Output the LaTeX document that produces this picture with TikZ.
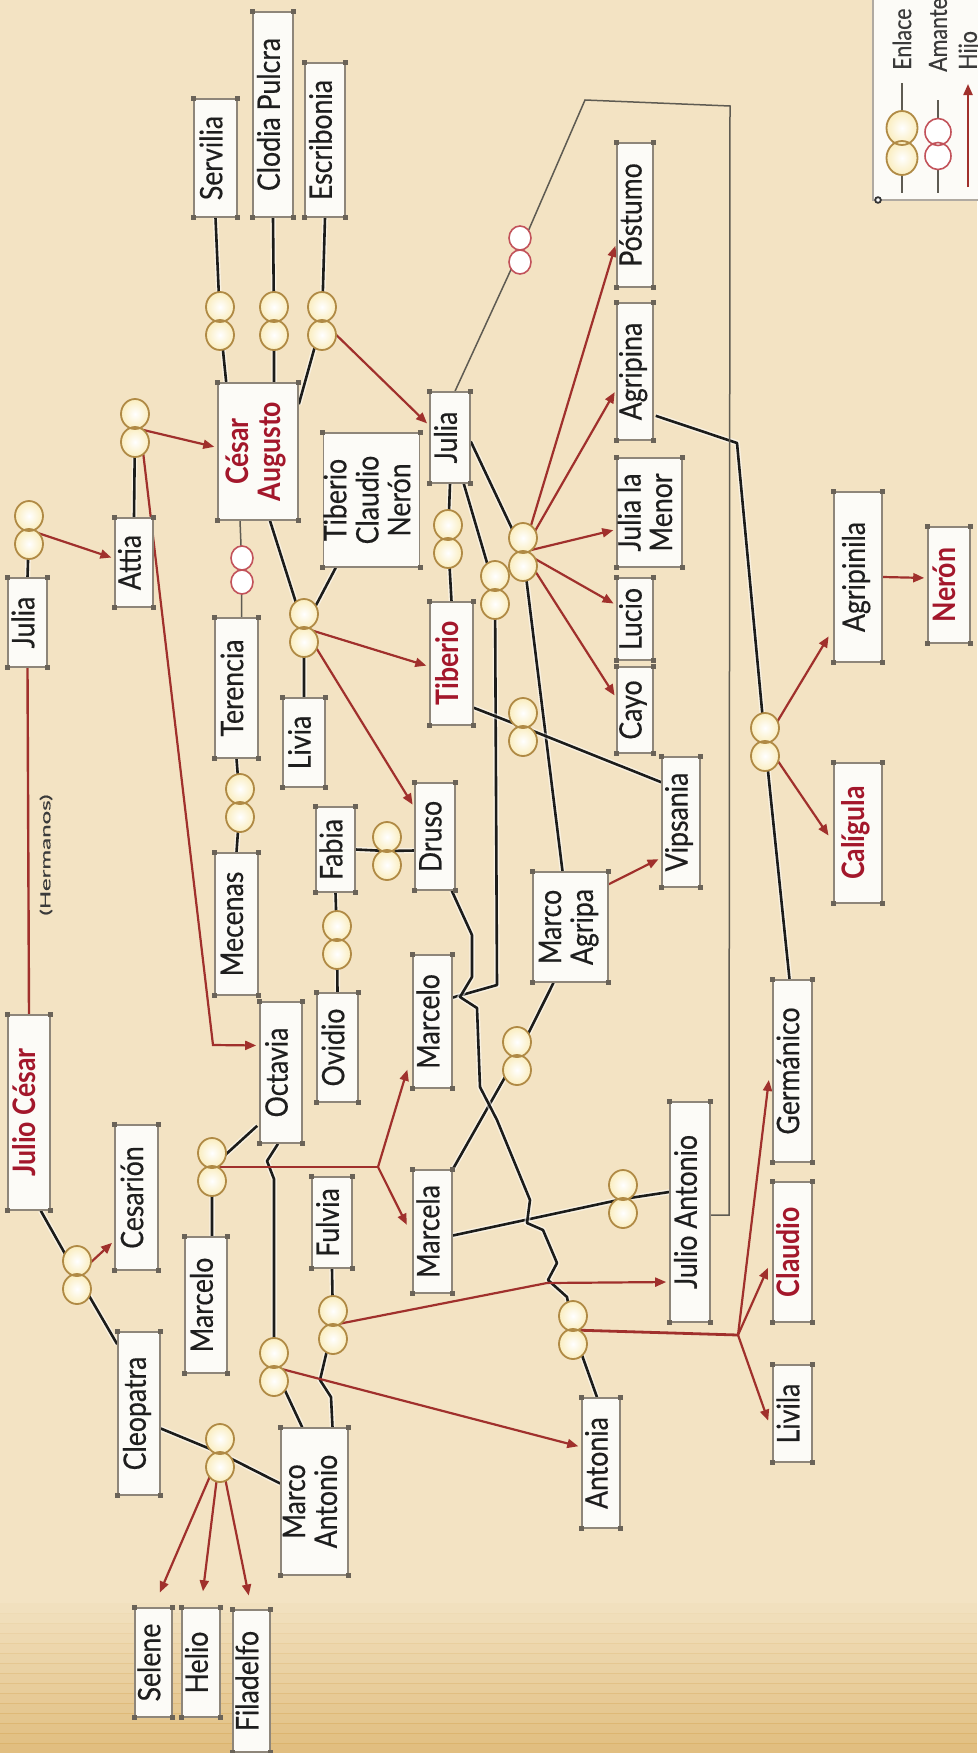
\documentclass[tikz,border=0pt]{standalone}
\usepackage{fontspec}
\setmainfont{Lato}[FakeStretch=0.86, UprightFeatures={FakeBold=0.4}]
\usepackage{graphicx}
\usetikzlibrary{arrows.meta,calc}
\definecolor{bgc}{HTML}{F3E3C3}
\definecolor{bgdark}{HTML}{D9AE62}
\definecolor{boxgray}{HTML}{8E867A}
\definecolor{cornergray}{HTML}{6A6358}
\definecolor{boxfill}{HTML}{FCFBF7}
\definecolor{txtred}{HTML}{A3172B}
\definecolor{arrred}{HTML}{A0302C}
\definecolor{ringbrown}{HTML}{B08A45}
\definecolor{ringyel}{HTML}{FAEDBE}
\definecolor{amred}{HTML}{C2525A}
\definecolor{lnblack}{HTML}{1C1C1A}
\definecolor{amgray}{HTML}{5E5B52}
\definecolor{legtext}{HTML}{3A3A3A}
\definecolor{txtblack}{HTML}{1E1E1E}
\pgfdeclarelayer{bgl}\pgfdeclarelayer{edges}\pgfsetlayers{bgl,edges,main}
\newcommand\lblfont{\fontsize{31}{31}\selectfont}
\newcommand\legfont{\fontsize{25}{25}\selectfont}
\tikzset{
  pbox/.style={draw=boxgray, fill=boxfill, line width=1.6pt, inner sep=0pt, font=\lblfont, text=txtblack},
  enl/.style={draw=lnblack, line width=2.6pt, line join=round, preaction={draw=white, line width=5.5pt, opacity=0.55}},
  aml/.style={draw=amgray, line width=1.5pt},
  hijo/.style={draw=arrred, line width=2.2pt, -{Triangle[length=11pt,width=9pt]}, shorten >=3pt},
  hijoline/.style={draw=arrred, line width=2.8pt},
  hline/.style={draw=arrred, line width=2.4pt},
  ringEfill/.style={shade, inner color=white, outer color=ringyel},
  ringEline/.style={draw=ringbrown, line width=1.8pt},
  ringAfill/.style={fill=white},
  ringAline/.style={draw=amred, line width=1.6pt},
}
% name, x, y, rx, ry, offset, style prefix
\newcommand\ringgen[7]{%
  \node[inner sep=0pt, minimum width={2*#4}, minimum height={2*#6+2*#5}] (#1) at (#2,#3) {};
  \path[#7fill] ([yshift=#6pt]#1.center) ellipse [x radius=#4pt, y radius=#5pt];
  \path[#7fill] ([yshift=-#6pt]#1.center) ellipse [x radius=#4pt, y radius=#5pt];
  \draw[#7line] ([yshift=#6pt]#1.center) ellipse [x radius=#4pt, y radius=#5pt]
                ([yshift=-#6pt]#1.center) ellipse [x radius=#4pt, y radius=#5pt];}
\newcommand\ringE[3]{\ringgen{#1}{#2}{#3}{14}{15}{14}{ringE}}
\newcommand\ringA[3]{\ringgen{#1}{#2}{#3}{11}{12}{12}{ringA}}
% [style] name x y w h text
\newcommand\pn[7][]{\node[pbox,minimum width=#5,minimum height=#6] (#2) at (#3,#4)
  {\rotatebox{90}{#1\begin{tabular}{@{}c@{}}#7\end{tabular}}};}
\newcommand\rd{\color{txtred}\bfseries}

\begin{document}
\begin{tikzpicture}[x=1pt,y=-1pt]
\useasboundingbox (0,0) rectangle (977,1753);
\begin{pgfonlayer}{bgl}
  \fill[bgc] (0,0) rectangle (977,1753);
  \foreach \i in {0,...,15} {\fill[bgdark, opacity=\i/22] (0,1593+\i*10) rectangle (977,1604+\i*10);}
\end{pgfonlayer}

% ---------- boxes ----------
\pn{servilia}{215.5}{158}{43}{118}{Servilia}
\pn{clodia}{273}{114.5}{40}{205}{Clodia Pulcra}
\pn{escribonia}{325}{140}{40}{154}{Escribonia}
\pn[\rd]{augusto}{258}{451.5}{80}{137}{César\\Augusto}
\pn{julia1}{27.5}{622.5}{39}{89}{Julia}
\pn{attia}{134}{562.5}{38}{89}{Attia}
\pn{terencia}{236.5}{688}{43}{140}{Terencia}
\pn{mecenas}{236.5}{924}{43}{142}{Mecenas}
\pn{tcn}{371.5}{500}{93}{134}{Tiberio\\Claudio\\Nerón}
\pn{livia}{304}{742.5}{42}{89}{Livia}
\pn{julia2}{450}{437.5}{40}{91}{Julia}
\pn[\rd]{tiberio}{451.5}{663.5}{43}{123}{Tiberio}
\pn{druso}{435}{836.5}{40}{107}{Druso}
\pn{fabia}{335.5}{849.5}{39}{85}{Fabia}
\pn{ovidio}{337.5}{1047.5}{41}{109}{Ovidio}
\pn{octavia}{281}{1072.5}{42}{141}{Octavia}
\pn{marcelo2}{432.5}{1021.5}{39}{133}{Marcelo}
\pn{marcela}{432.5}{1231.5}{39}{123}{Marcela}
\pn{marcelo1}{206}{1305}{42}{136}{Marcelo}
\pn{fulvia}{332}{1222.5}{40}{91}{Fulvia}
\pn{mantonio}{314.5}{1501.5}{67}{147}{Marco\\Antonio}
\pn{cleopatra}{139}{1413.5}{42}{163}{Cleopatra}
\pn[\rd]{jcesar}{29}{1112.5}{42}{195}{Julio César}
\pn{cesarion}{136.5}{1197.5}{43}{145}{Cesarión}
\pn{selene}{153.5}{1662.5}{37}{109}{Selene}
\pn{helio}{201}{1662.5}{38}{109}{Helio}
\pn{filadelfo}{251.5}{1681}{37}{142}{Filadelfo}
\pn{antonia}{601}{1463}{38}{130}{Antonia}
\pn{julioantonio}{690}{1212}{40}{220}{Julio Antonio}
\pn{livila}{792.5}{1413.5}{39}{97}{Livila}
\pn[\rd]{claudio}{792.5}{1252}{39}{140}{Claudio}
\pn{germanico}{792.5}{1071}{39}{182}{Germánico}
\pn[\rd]{caligula}{858}{833}{48}{140}{Calígula}
\pn{agripinila}{858}{577}{48}{170}{Agripinila}
\pn[\rd]{neron}{949}{585}{42}{116}{Nerón}
\pn{postumo}{635}{215}{36}{144}{Póstumo}
\pn{agripina}{635}{371.5}{36}{137}{Agripina}
\pn{juliamenor}{649.5}{512.5}{65}{109}{Julia la\\Menor}
\pn{lucio}{635}{619}{36}{82}{Lucio}
\pn{cayo}{635}{710}{36}{86}{Cayo}
\pn{vipsania}{681}{822}{38}{130}{Vipsania}
\pn{magripa}{570.5}{927}{75}{110}{Marco\\Agripa}

\foreach \n in {servilia,clodia,escribonia,augusto,julia1,attia,terencia,mecenas,tcn,livia,julia2,tiberio,druso,fabia,ovidio,octavia,marcelo2,marcela,marcelo1,fulvia,mantonio,cleopatra,jcesar,cesarion,selene,helio,filadelfo,antonia,julioantonio,livila,claudio,germanico,caligula,agripinila,neron,postumo,agripina,juliamenor,lucio,cayo,vipsania,magripa}
  {\foreach \a in {north east,north west,south east,south west}
    {\fill[cornergray] ([shift={(-2.5,-2.5)}]\n.\a) rectangle ([shift={(2.5,2.5)}]\n.\a);}}

\node[inner sep=0pt, font=\fontsize{14}{14}\selectfont, text=legtext] (hermanos) at (46,855)
  {\rotatebox{90}{\scalebox{2}[1]{(Hermanos)}}};

% ---------- rings ----------
\ringE{rserv}{220}{321}
\ringE{rclod}{274}{321}
\ringE{rescr}{322}{321}
\ringE{rattia}{135}{428}
\ringE{rjulia}{29}{530}
\ringE{rmec}{240}{803}
\ringE{rlivia}{304}{628}
\ringE{rjt}{448}{539}
\ringE{rjm}{495}{590}
\ringE{rja}{523}{552}
\ringE{rtv}{523}{727}
\ringE{rfd}{387}{851}
\ringE{rov}{337}{940}
\ringE{roct}{212}{1167}
\ringE{rmo}{274}{1367}
\ringE{rfulv}{333}{1325}
\ringE{rcleo}{220}{1453}
\ringE{rjc}{77}{1275}
\ringE{rma}{517}{1056}
\ringE{rmja}{623}{1199}
\ringE{rant}{573}{1330}
\ringE{ragr}{765}{742}
\ringA{rter}{242}{570}
\ringA{rjul}{520}{250}

% ---------- helper coordinates ----------
\coordinate (cjm) at (497,985);
\coordinate (co1) at (267,1161);
\coordinate (co2) at (274,1179);
\coordinate (cf1) at (320,1380);
\coordinate (cf2) at (331,1397);
\coordinate (d1) at (472,935);
\coordinate (d2) at (472,977);
\coordinate (d3) at (460,997);
\coordinate (d4) at (477,1008);
\coordinate (d5) at (480,1087);
\coordinate (d6) at (497,1120);
\coordinate (d7) at (530,1200);
\coordinate (d8) at (527,1223);
\coordinate (d9) at (543,1230);
\coordinate (d10) at (557,1263);
\coordinate (d11) at (548,1280);
\coordinate (d12) at (567,1297);
\coordinate (cag) at (737,443);
\coordinate (cj1) at (585,100);
\coordinate (cj2) at (730,106);
\coordinate (cj3) at (729,1215);
\coordinate (coc) at (213,1045);
\coordinate (foct) at (378,1167);
\coordinate (cfu) at (547,1283);
\coordinate (fant) at (738,1335);

\begin{pgfonlayer}{edges}
% enlaces
\draw[enl] (servilia.south) -- (rserv.center) -- ([shift={(9,0)}]augusto.north west);
\draw[enl] (clodia.south) -- (rclod.center) -- ([shift={(16,0)}]augusto.north);
\draw[enl] (escribonia.south) -- (rescr.center) -- ([shift={(0,22)}]augusto.north east);
\draw[enl] (rattia.center) -- (attia.north);
\draw[enl] (rjulia.center) -- (julia1.north);
\draw[enl] (terencia.south) -- (rmec.center) -- (mecenas.north);
\draw[enl] ([shift={(12,0)}]augusto.south) -- (rlivia.center);
\draw[enl] ([shift={(13,0)}]tcn.south west) -- (rlivia.center) -- (livia.north);
\draw[enl] (julia2.south) -- (rjt.center) -- (tiberio.north);
\draw[enl] ([shift={(0,4)}]julia2.east) -- (rja.center) -- ([shift={(-8,0)}]magripa.north);
\draw[enl] ([shift={(-7,0)}]julia2.south east) -- (rjm.center) -- (cjm) -- ([shift={(0,-24)}]marcelo2.east);
\draw[enl] ([shift={(0,-18)}]tiberio.south east) -- (rtv.center) -- ([shift={(0,26)}]vipsania.north west);
\draw[enl] (fabia.east) -- (rfd.center) -- ([shift={(0,14)}]druso.west);
\draw[enl] (fabia.south) -- (rov.center) -- (ovidio.north);
\draw[enl] ([shift={(-2,-18)}]octavia.south west) -- (roct.center) -- ([shift={(6,0)}]marcelo1.north);
\draw[enl] ([shift={(-3,0)}]octavia.south) -- (co1) -- (co2) -- (rmo.center) -- ([shift={(22,0)}]mantonio.north west);
\draw[enl] (fulvia.south) -- (rfulv.center) -- (cf1) -- (cf2) -- ([shift={(18,0)}]mantonio.north);
\draw[enl] ([shift={(0,15)}]cleopatra.east) -- (rcleo.center) -- ([shift={(0,-18)}]mantonio.west);
\draw[enl] ([shift={(-10,0)}]jcesar.south east) -- (rjc.center) -- ([shift={(0,13)}]cleopatra.north west);
\draw[enl] ([shift={(-17,0)}]magripa.south) -- (rma.center) -- (marcela.north east);
\draw[enl] ([shift={(0,4)}]marcela.east) -- (rmja.center) -- ([shift={(0,-20)}]julioantonio.west);
\draw[enl] ([shift={(-4,0)}]druso.south east) -- (d1) -- (d2) -- (d3) -- (d4) -- (d5) -- (d6) -- (d7) -- (d8) -- (d9) -- (d10) -- (d11) -- (d12) -- (rant.center) -- ([shift={(-4,0)}]antonia.north);
\draw[enl] ([shift={(2,-25)}]agripina.south east) -- (cag) -- (ragr.center) -- ([shift={(-3,0)}]germanico.north);
% amantes
\draw[aml] ([shift={(-18,0)}]augusto.south) -- (rter.center) -- ([shift={(5,0)}]terencia.north);
\draw[aml] ([shift={(5,0)}]julia2.north) -- (rjul.center) -- (cj1) -- (cj2) -- (cj3) -- ([shift={(0,3)}]julioantonio.east);
% hermanos
\draw[hline] (julia1.south) -- (jcesar.north);
% hijos
\draw[hijo] (rjulia.center) -- ([shift={(0,-4)}]attia.west);
\draw[hijo] (rattia.center) -- ([shift={(0,-4)}]augusto.west);
\draw[hijo] ([shift={(-6,-4)}]rattia.south east) -- (coc) -- ([shift={(0,-27)}]octavia.west);
\draw[hijo] (rescr.center) -- ([shift={(0,-12)}]julia2.west);
\draw[hijo] (rlivia.center) -- ([shift={(0,3)}]tiberio.west);
\draw[hijo] (rlivia.center) -- ([shift={(0,25)}]druso.north west);
\draw[hijo] (rja.center) -- ([shift={(0,28)}]postumo.west);
\draw[hijo] (rja.center) -- ([shift={(0,18)}]agripina.west);
\draw[hijo] (rja.center) -- ([shift={(0,17)}]juliamenor.west);
\draw[hijo] (rja.center) -- ([shift={(0,-14)}]lucio.west);
\draw[hijo] (rja.center) -- ([shift={(0,-12)}]cayo.west);
\draw[hijo] ([shift={(0,13)}]magripa.north east) -- ([shift={(0,-30)}]vipsania.south west);
\draw[hijoline] (roct.center) -- (foct);
\draw[hijo] (foct) -- ([shift={(-4,-22)}]marcelo2.south west);
\draw[hijo] (foct) -- ([shift={(-4,-4)}]marcela.west);
\draw[hijo] (rjc.center) -- ([shift={(0,-30)}]cesarion.south west);
\draw[hijo, shorten >=16pt] (rcleo.center) -- (selene.north);
\draw[hijo, shorten >=16pt] (rcleo.center) -- (helio.north);
\draw[hijo, shorten >=14pt] (rcleo.center) -- (filadelfo.north);
\draw[hijo] (rfulv.center) -- (cfu) -- ([shift={(0,70)}]julioantonio.west);
\draw[hijo] (rmo.center) -- ([shift={(0,-16)}]antonia.west);
\draw[hijoline] (rant.center) -- (fant);
\draw[hijo] (fant) -- ([shift={(-3,10)}]livila.west);
\draw[hijo] (fant) -- ([shift={(-3,13)}]claudio.west);
\draw[hijo] (fant) -- ([shift={(-3,6)}]germanico.west);
\draw[hijo] (ragr.center) -- ([shift={(-3,-29)}]agripinila.south west);
\draw[hijo] (ragr.center) -- ([shift={(-3,5)}]caligula.west);
\draw[hijo] (agripinila.east) -- ([shift={(0,-7)}]neron.west);
\end{pgfonlayer}

% ---------- legend ----------
\node[draw=boxgray!70, fill=boxfill, line width=1.2pt, inner sep=0pt, minimum width=130, minimum height=230] (legend) at (938,85) {};
\coordinate (le1) at (902,83);
\coordinate (le2) at (902,193);
\coordinate (la1) at (938,100);
\coordinate (la2) at (938,193);
\coordinate (lh1) at (968,187);
\coordinate (lh2) at (968,84);
\draw[draw=amgray, line width=2.6pt] (le1) -- (le2);
\draw[aml] (la1) -- (la2);
\draw[hijo, shorten >=0pt] (lh1) -- (lh2);
\ringgen{lre}{902}{143}{15.5}{17}{15}{ringE}
\ringgen{lra}{938}{144}{13}{13.5}{12}{ringA}
\node[circle, draw=black!80, fill=white, line width=1.8pt, inner sep=2pt] (ldot) at (878,200) {};
\node[anchor=south, inner sep=0pt, font=\legfont, text=legtext] (lt1) at (902,70) {\rotatebox{90}{Enlace}};
\node[anchor=south, inner sep=0pt, font=\legfont, text=legtext] (lt2) at (938,72) {\rotatebox{90}{Amantes}};
\node[anchor=south, inner sep=0pt, font=\legfont, text=legtext] (lt3) at (970,70) {\rotatebox{90}{Hijo}};
\end{tikzpicture}
\end{document}
